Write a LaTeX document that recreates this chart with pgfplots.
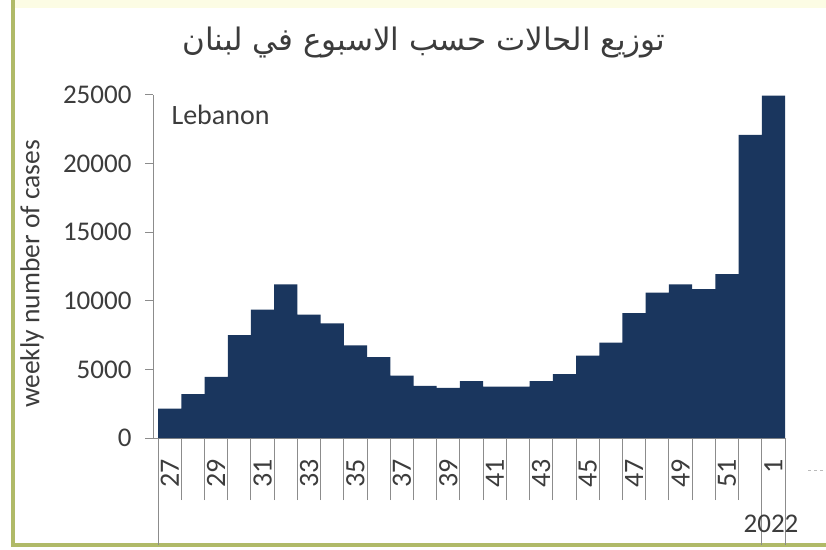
\documentclass[border=0pt]{standalone}
\usepackage{pgfplots}
\pgfplotsset{compat=1.18}
\usepackage{fontspec}
\setmainfont{Carlito}
\newfontfamily\arabicfont[Script=Arabic]{DejaVu Sans}
\TeXXeTstate=1
\definecolor{barnavy}{RGB}{26,54,94}
\definecolor{axgray}{RGB}{140,140,140}
\definecolor{txtgray}{RGB}{60,60,60}
\definecolor{olive}{RGB}{176,186,104}
\definecolor{paleyel}{RGB}{252,252,228}
\pgfplotstableread{
idx val
0 2150
1 3200
2 4450
3 7500
4 9350
5 11200
6 9000
7 8350
8 6750
9 5900
10 4550
11 3800
12 3650
13 4150
14 3750
15 3750
16 4150
17 4650
18 6000
19 6950
20 9100
21 10600
22 11200
23 10850
24 11950
25 22100
26 24950
}\weekly
\begin{document}
\begin{tikzpicture}
\path[use as bounding box] (0,0) rectangle (826pt,549pt);
\fill[paleyel] (13pt,541pt) rectangle (826pt,549pt);
\draw[olive, line width=4pt] (13pt,549pt) -- (13pt,4pt) -- (826pt,4pt);
\begin{axis}[
  at={(153pt,111pt)}, anchor=south west,
  scale only axis, width=632pt, height=343pt,
  xmin=-0.72, xmax=26.5, ymin=0, ymax=25000,
  axis x line*=bottom, axis y line*=left,
  axis line style={axgray, line width=1pt},
  ytick={0,5000,...,25000},
  scaled y ticks=false,
  /pgf/number format/1000 sep={},
  /pgf/number format/assume math mode=true,
  tick align=outside,
  major tick length=8pt,
  ytick style={axgray, line width=1pt},
  xtick={0,2,...,26},
  xticklabels={27,29,31,33,35,37,39,41,43,45,47,49,51,1},
  major x tick style={draw=none},
  extra x ticks={-0.5,0.5,...,26.5},
  extra x tick labels={},
  extra x tick style={major tick length=62pt, major x tick style={draw=axgray, line width=1pt}},
  minor xtick={-0.5,25.5,26.5},
  minor tick length=107pt,
  minor x tick style={draw=axgray, line width=1pt},
  tick label style={font=\fontsize{27}{32}\selectfont, text=txtgray},
  xticklabel style={rotate=90, anchor=east, xshift=-10pt, font=\fontsize{28}{32}\selectfont},
  yticklabel style={xshift=-10pt},
  clip=false,
]
\addplot[ybar, bar width=1, bar shift=0pt, fill=barnavy, draw=none] table[x=idx, y=val] {\weekly};
\end{axis}
\node[anchor=west, text=txtgray, font=\fontsize{28}{32}\selectfont] at (168pt,434pt) {Lebanon};
\node[rotate=90, text=txtgray, font=\fontsize{27.5}{32}\selectfont] at (32pt,275pt) {weekly number of cases};
\node[text=txtgray, font=\fontsize{27}{32}\selectfont] at (771pt,25pt) {2022};
\node[text=txtgray] at (424pt,506pt) {\arabicfont\fontsize{31}{36}\selectfont\beginR توزيع الحالات حسب الاسبوع في لبنان\endR};
\draw[axgray!60, dashed, line width=1pt] (808pt,79pt) -- (826pt,79pt);
\end{tikzpicture}
\end{document}
